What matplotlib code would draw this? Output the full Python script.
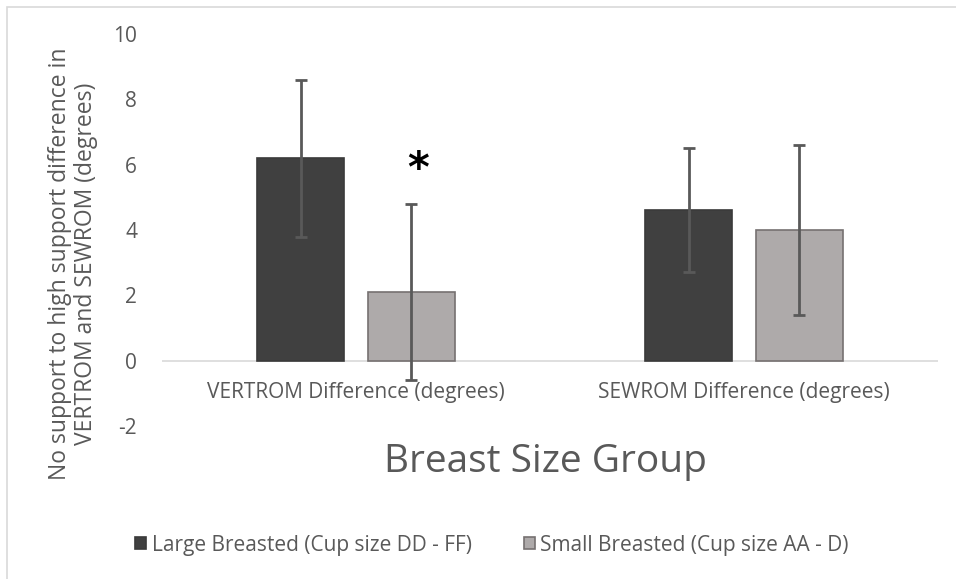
import matplotlib
matplotlib.use('Agg')
import matplotlib.pyplot as plt
import numpy as np
from matplotlib.patches import Rectangle

plt.rcParams['font.family'] = ['Open Sans', 'DejaVu Sans']
plt.rcParams['axes.unicode_minus'] = False

# data
categories = ['VERTROM Difference (degrees)', 'SEWROM Difference (degrees)']
series_names = ['Large Breasted (Cup size DD - FF)', 'Small Breasted (Cup size AA - D)']
large_mean = [6.2, 4.6]
large_sd = [2.4, 1.9]
small_mean = [2.1, 4.0]
small_sd = [2.7, 2.6]
yticks = [-2, 0, 2, 4, 6, 8, 10]

txtcol = '#595959'
dark = '#404040'
light = '#AEAAAA'
errcol = '#595959'

fig = plt.figure(figsize=(9.56, 5.79), dpi=100)
ax = fig.add_axes([162/956, 1-426/579, 776/956, 392/579])

x = np.arange(len(categories))
w = 0.226
off = 0.143
errkw = dict(ecolor=errcol, elinewidth=2, capsize=4.3, capthick=2)
ax.bar(x-off, large_mean, w, yerr=large_sd, color=dark, edgecolor='#3a3a3a',
       linewidth=1.2, error_kw=errkw, label=series_names[0], zorder=2)
ax.bar(x+off, small_mean, w, yerr=small_sd, color=light, edgecolor='#767171',
       linewidth=1.2, error_kw=errkw, label=series_names[1], zorder=2)

ax.set_xlim(-0.5, 1.5)
ax.set_ylim(-2, 10)
ax.set_yticks(yticks)
ax.tick_params(axis='y', length=0, pad=18, labelsize=15, labelcolor=txtcol)
ax.set_xticks([])
for s in ax.spines.values():
    s.set_visible(False)
ax.axhline(0, color='#D9D9D9', linewidth=1.2, zorder=1)

# category labels sit just under the zero line
for xi, lab in zip(x, categories):
    ax.text(xi, -0.97, lab, ha='center', va='center', fontsize=15, color=txtcol)

# significance marker
ax.text(0.16, 5.85, '*', ha='center', va='center', fontsize=30,
        fontweight='bold', color='black', family='DejaVu Sans')

fig.text(73/956, 1-264/579,
         'No support to high support difference in\nVERTROM and SEWROM (degrees)',
         rotation=90, ha='center', va='center', multialignment='center',
         fontsize=16.5, color=txtcol, linespacing=1.1)
fig.text(545/956, 1-462/579, 'Breast Size Group', ha='center', va='center',
         fontsize=28, color=txtcol)

leg = fig.legend(loc='center', bbox_to_anchor=(492/956, 1-545/579), ncol=2,
                 frameon=False, fontsize=15, labelcolor=txtcol,
                 handlelength=0.55, handleheight=0.55, handletextpad=0.25,
                 columnspacing=2.5, borderaxespad=0)

# light grey chart border
fig.patches.append(Rectangle((7/956, -0.05), 1.2, 1-7/579+0.05,
                             transform=fig.transFigure, fill=False,
                             edgecolor='#D9D9D9', linewidth=1.2))

fig.savefig('out.png', dpi=100)
